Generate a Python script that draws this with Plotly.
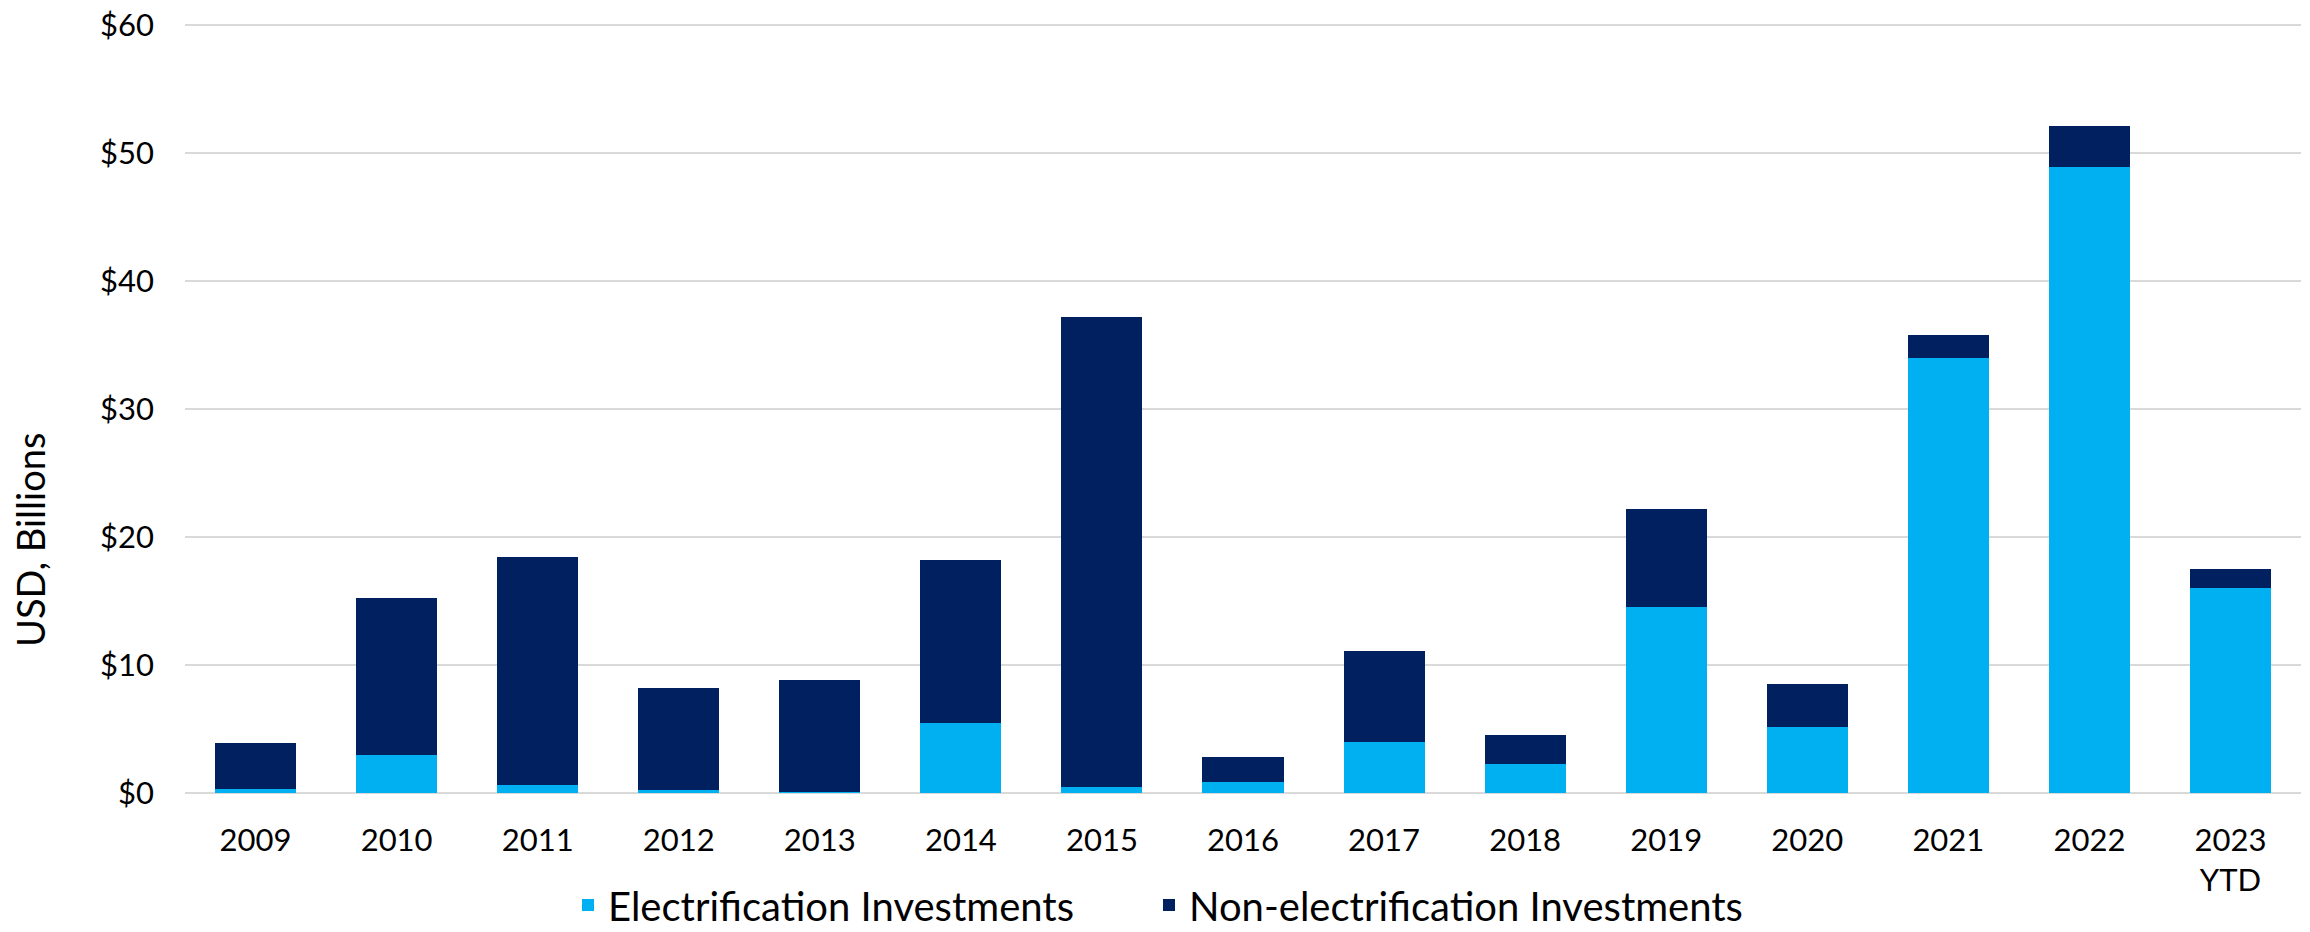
import plotly.graph_objects as go

years = ["2009", "2010", "2011", "2012", "2013", "2014", "2015", "2016",
         "2017", "2018", "2019", "2020", "2021", "2022", "2023<br>YTD"]
electrification = [0.3, 3.0, 0.6, 0.2, 0.05, 5.5, 0.45, 0.87, 3.95, 2.3, 14.5, 5.15, 34.0, 48.9, 16.0]
totals = [3.9, 15.2, 18.4, 8.2, 8.8, 18.2, 37.2, 2.85, 11.1, 4.55, 22.2, 8.55, 35.8, 52.1, 17.5]
non_electrification = [round(t - e, 2) for t, e in zip(totals, electrification)]
y_tick_values = [0, 10, 20, 30, 40, 50, 60]
y_tick_labels = ["$0", "$10", "$20", "$30", "$40", "$50", "$60"]

FONT = "Lato"
LIGHT = "#00B0F0"
NAVY = "#002060"
W, H = 2310, 932
PLOT_H = 793 - 21

fig = go.Figure()
fig.add_trace(go.Bar(x=years, y=electrification, name="Electrification Investments",
                     marker=dict(color=LIGHT, line=dict(width=0)), legend="legend"))
fig.add_trace(go.Bar(x=years, y=non_electrification, name="Non-electrification Investments",
                     marker=dict(color=NAVY, line=dict(width=0)), legend="legend2"))

leg_common = dict(orientation="h", xref="container", yref="paper",
                  xanchor="left", y=-(905 - 793) / PLOT_H, yanchor="middle",
                  font=dict(size=40), bgcolor="rgba(0,0,0,0)")

fig.update_layout(
    width=W, height=H,
    barmode="stack", bargap=0.425,
    plot_bgcolor="white", paper_bgcolor="white",
    margin=dict(l=185, r=9, t=21, b=139, autoexpand=False),
    font=dict(family=FONT, size=31, color="#000000"),
    showlegend=True,
    legend=dict(x=(610 - 42) / W, **leg_common),
    legend2=dict(x=(1191 - 42) / W, **leg_common),
    xaxis=dict(showgrid=False, showline=False, ticks="", ticklabelstandoff=26,
               tickfont=dict(size=31)),
    yaxis=dict(range=[0, 60.3], tickmode="array", tickvals=y_tick_values,
               ticktext=y_tick_labels,
               showgrid=True, gridcolor="#D9D9D9", gridwidth=2, zeroline=True,
               zerolinecolor="#D9D9D9", zerolinewidth=2, showline=False, ticks="",
               ticklabelstandoff=30, tickfont=dict(size=31)),
    annotations=[dict(text="USD, Billions", xref="paper", yref="paper",
                      x=-(185 - 30) / 2116, y=(793 - 540) / PLOT_H, xanchor="center",
                      yanchor="middle", textangle=-90, showarrow=False,
                      font=dict(size=38, family=FONT))],
)

fig.write_html("out.html", config={"displayModeBar": False},
               post_script="document.body.style.margin='0';document.body.style.overflow='hidden';")
